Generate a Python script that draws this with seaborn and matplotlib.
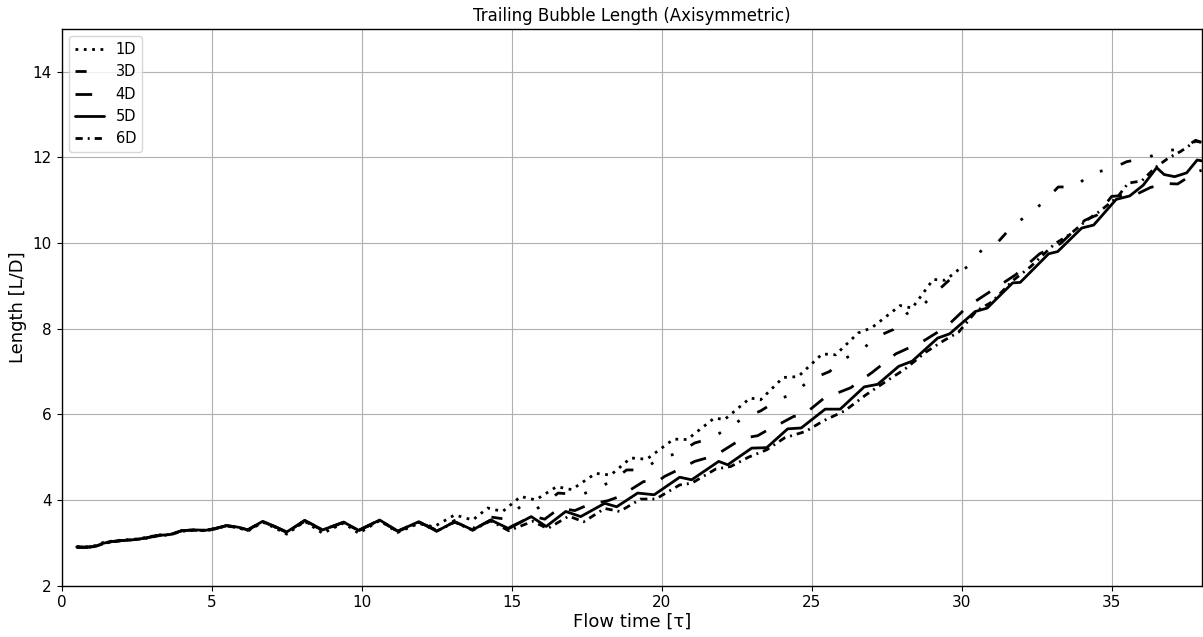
import matplotlib
matplotlib.use("Agg")
import matplotlib.pyplot as plt
import pandas as pd
import seaborn as sns

# Trailing bubble length vs. flow time for each domain size
t_early = [0.5, 0.8, 1.1, 1.4, 1.7, 2.0, 2.4, 2.8, 3.2, 3.6, 4.0, 4.4, 4.8, 5.1, 5.5,
           5.9, 6.2, 6.7, 7.1, 7.5, 8.1, 8.7, 9.4, 9.9, 10.6, 11.2, 11.9, 12.5, 13.1, 13.7]

t_1d = t_early[:26] + [11.9, 12.4, 13.1, 13.7, 14.2, 14.7, 15.3, 15.8, 16.5, 17.0, 17.8, 18.3,
                       18.97, 19.5, 20.4, 20.85, 21.75, 22.1, 22.95, 23.3, 24.05, 24.55, 25.35,
                       25.8, 26.55, 27.0, 27.95, 28.35, 29.05, 29.45, 29.9]
len_1d = [2.91, 2.90, 2.93, 3.01, 3.04, 3.06, 3.08, 3.12, 3.18, 3.19, 3.27, 3.30, 3.28, 3.32,
          3.40, 3.35, 3.27, 3.48, 3.35, 3.20, 3.50, 3.22, 3.46, 3.22, 3.52, 3.24,
          3.45, 3.37, 3.65, 3.53, 3.81, 3.73, 4.08, 4.00, 4.31, 4.24, 4.62, 4.58,
          4.98, 4.95, 5.42, 5.41, 5.91, 5.88, 6.38, 6.34, 6.86, 6.88, 7.41,
          7.39, 7.90, 8.02, 8.54, 8.48, 9.15, 9.13, 9.38]

t_3d = t_early + [14.3, 14.8, 15.3, 15.7, 16.55, 17.33, 18.33, 18.83, 19.38, 19.94, 20.55, 21.1,
                  21.66, 22.28, 22.72, 23.3, 23.9, 24.45, 24.95, 25.6, 26.06, 26.6, 27.2, 27.72,
                  28.17, 28.78, 29.22, 29.72, 30.3, 30.67, 31.23, 31.72, 32.18, 32.72, 33.22,
                  33.78, 34.33, 34.95, 35.5, 36.17, 36.78, 37.33, 37.8, 38.0]
len_3d = [2.90, 2.89, 2.92, 3.00, 3.03, 3.05, 3.07, 3.11, 3.17, 3.19, 3.28, 3.30, 3.29, 3.33,
          3.40, 3.36, 3.29, 3.49, 3.37, 3.24, 3.52, 3.28, 3.48, 3.28, 3.53, 3.27, 3.49, 3.29,
          3.52, 3.33,
          3.60, 3.55, 3.85, 3.72, 4.16, 4.12, 4.43, 4.70, 4.70, 4.98, 5.09, 5.33,
          5.44, 5.71, 5.91, 6.08, 6.34, 6.51, 6.81, 7.00, 7.29, 7.47, 7.82, 7.98,
          8.35, 8.60, 8.90, 9.22, 9.50, 9.84, 10.04, 10.42, 10.64, 10.95, 11.31,
          11.31, 11.64, 11.72, 11.90, 11.99, 12.16, 12.19, 12.40, 12.35]

t_4d = t_early + [14.3, 14.9, 15.7, 16.1, 16.6, 17.1, 17.6, 18.2, 18.6, 19.4, 19.8, 20.1, 20.6,
                  21.1, 21.6, 21.95, 22.7, 23.2, 23.7, 24.0, 24.4, 24.7, 25.4, 26.3, 27.0,
                  27.8, 28.7, 29.5, 30.2, 31.0, 31.8, 32.6, 33.3, 34.1, 34.5, 35.0, 35.8,
                  36.3, 36.8, 37.2, 37.8, 38.0]
len_4d = [2.90, 2.90, 2.91, 2.99, 3.03, 3.05, 3.07, 3.11, 3.17, 3.19, 3.28, 3.30, 3.29, 3.33,
          3.40, 3.36, 3.30, 3.50, 3.38, 3.25, 3.52, 3.30, 3.48, 3.29, 3.53, 3.27, 3.49, 3.28,
          3.49, 3.30,
          3.53, 3.35, 3.62, 3.55, 3.81, 3.75, 3.90, 3.98, 4.08, 4.43, 4.40, 4.55, 4.72,
          4.90, 5.00, 5.11, 5.44, 5.50, 5.70, 5.80, 5.95, 5.97, 6.37, 6.62, 6.97,
          7.41, 7.70, 8.05, 8.52, 8.89, 9.26, 9.75, 9.99, 10.53, 10.65, 11.09, 11.13,
          11.30, 11.39, 11.38, 11.65, 11.70]

t_5d = t_early + [14.3, 14.9, 15.65, 16.15, 16.8, 17.3, 18.1, 18.5, 19.2, 19.75, 20.6, 21.0,
                  21.9, 22.2, 23.0, 23.5, 24.2, 24.65, 25.45, 25.95, 26.75, 27.2, 27.9, 28.35,
                  29.2, 29.6, 30.45, 30.85, 31.7, 31.95, 32.9, 33.2, 34.0, 34.4, 35.15, 35.6,
                  36.05, 36.5, 36.75, 37.1, 37.5, 37.85, 38.0]
len_5d = [2.90, 2.89, 2.91, 2.99, 3.03, 3.05, 3.07, 3.11, 3.17, 3.19, 3.28, 3.30, 3.29, 3.33,
          3.40, 3.36, 3.30, 3.50, 3.38, 3.25, 3.52, 3.30, 3.48, 3.29, 3.53, 3.27, 3.49, 3.27,
          3.49, 3.30,
          3.53, 3.33, 3.61, 3.38, 3.73, 3.61, 3.92, 3.84, 4.16, 4.12, 4.53, 4.47,
          4.90, 4.82, 5.21, 5.22, 5.66, 5.68, 6.12, 6.12, 6.64, 6.70, 7.12, 7.24,
          7.78, 7.88, 8.40, 8.48, 9.07, 9.08, 9.75, 9.80, 10.35, 10.42, 11.02, 11.10,
          11.35, 11.76, 11.60, 11.55, 11.64, 11.94, 11.92]

t_6d = t_early + [14.3, 14.9, 15.7, 16.2, 16.9, 17.4, 18.1, 18.6, 19.3, 19.8, 20.6, 21.0, 21.8,
                  22.3, 22.9, 23.5, 24.1, 24.8, 25.4, 26.1, 26.8, 27.5, 28.1, 28.8, 29.4,
                  29.9, 30.5, 31.0, 31.7, 32.3, 33.1, 33.6, 34.2, 34.6, 35.2, 35.55, 36.0,
                  36.45, 36.9, 37.3, 37.8, 38.0]
len_6d = [2.89, 2.89, 2.91, 2.98, 3.02, 3.05, 3.07, 3.10, 3.16, 3.18, 3.27, 3.29, 3.28, 3.32,
          3.39, 3.35, 3.29, 3.49, 3.37, 3.24, 3.50, 3.29, 3.47, 3.28, 3.52, 3.26, 3.48, 3.27,
          3.48, 3.29,
          3.51, 3.28, 3.50, 3.33, 3.62, 3.49, 3.80, 3.73, 4.02, 4.02, 4.35, 4.39, 4.72,
          4.78, 5.00, 5.17, 5.45, 5.60, 5.85, 6.08, 6.45, 6.78, 7.05, 7.45, 7.72,
          7.92, 8.42, 8.62, 9.12, 9.45, 9.98, 10.20, 10.55, 10.74, 11.08, 11.40, 11.45,
          11.76, 11.99, 12.14, 12.38, 12.35]

labels = ["1D", "3D", "4D", "5D", "6D"]
series = [(t_1d, len_1d), (t_3d, len_3d), (t_4d, len_4d), (t_5d, len_5d), (t_6d, len_6d)]
styles = [(0, (1, 2)), (0, (4, 7, 1, 7, 1, 7)), (0, (6, 6)), "-", (0, (2.6, 1.8, 0.7, 1.8))]

sns.set_style("ticks")
plt.rcParams["font.family"] = ["DejaVu Sans"]

fig = plt.figure(figsize=(12.03, 6.37), dpi=100)
ax = fig.add_axes([0.0513, 0.0808, 0.9476, 0.8737])

for name, (tt, ll), ls in zip(labels, series, styles):
    df = pd.DataFrame({"t": tt, "L": ll})
    sns.lineplot(data=df, x="t", y="L", ax=ax, color="black", linewidth=2.0,
                 linestyle=ls, label=name, estimator=None, sort=False)

ax.set_xlim(0, 38)
ax.set_ylim(2, 15)
ax.set_xticks([0, 5, 10, 15, 20, 25, 30, 35])
ax.set_yticks([2, 4, 6, 8, 10, 12, 14])
ax.grid(True, color="#b0b0b0", linewidth=0.8)
ax.set_axisbelow(True)
for sp in ax.spines.values():
    sp.set_color("black")
    sp.set_linewidth(1.0)
ax.tick_params(axis="both", labelsize=11, direction="out", length=3.5, width=0.8,
               color="black", labelcolor="black")

ax.set_title("Trailing Bubble Length (Axisymmetric)", fontsize=12, color="black")
ax.set_xlabel("Flow time [τ]", fontsize=13, color="black", labelpad=2)
ax.set_ylabel("Length [L/D]", fontsize=13, color="black", labelpad=4)

leg = ax.legend(loc="upper left", fontsize=10.5, frameon=True, fancybox=True,
                edgecolor="0.8", framealpha=0.8)
for txt in leg.get_texts():
    txt.set_color("black")

fig.savefig("out.png", dpi=100)
